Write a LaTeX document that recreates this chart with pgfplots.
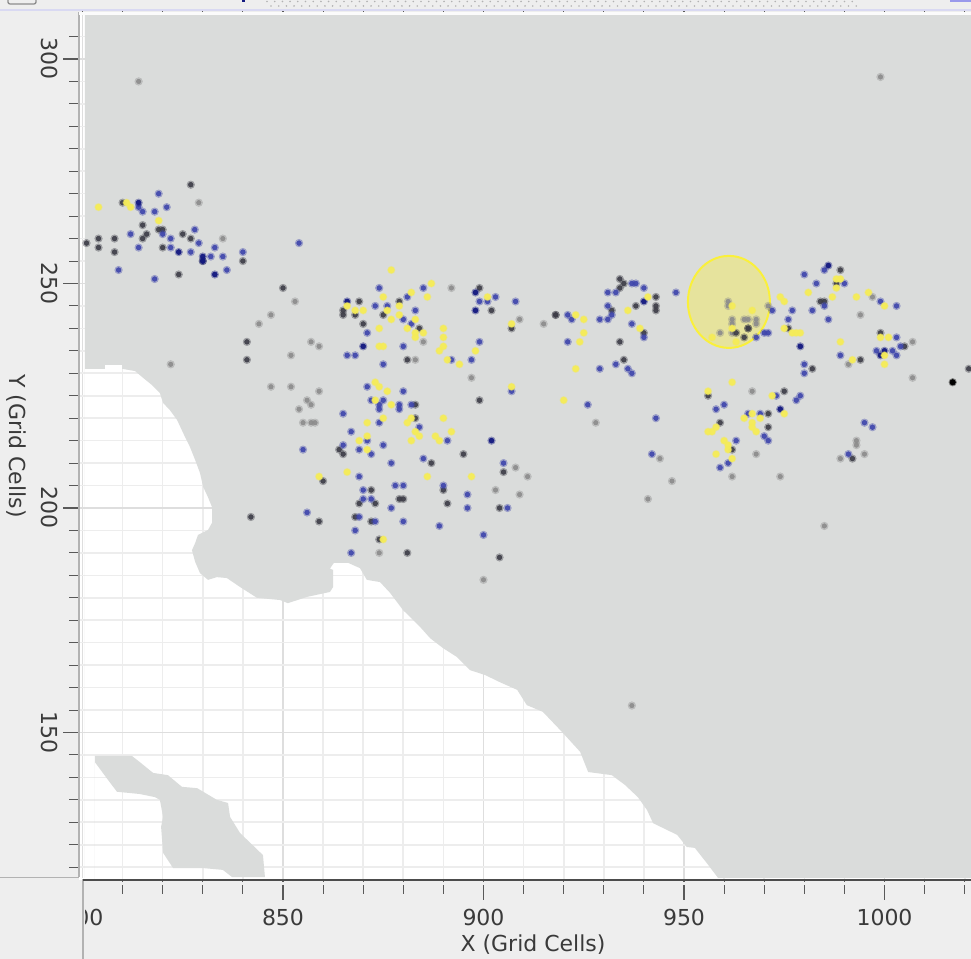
\documentclass[border=0pt]{standalone}
\usepackage{pgfplots}
\usepackage{pgfplotstable}
\usepackage{fontspec}
\setmainfont{DejaVu Sans}
\pgfplotsset{compat=1.18}
\definecolor{panel}{HTML}{EEEEEE}
\definecolor{ocean}{HTML}{DADCDB}
\definecolor{cblue}{HTML}{3F46AC}
\definecolor{cnavy}{HTML}{141A80}
\definecolor{cdark}{HTML}{3E3E48}
\definecolor{cgray}{HTML}{8C8C8C}
\definecolor{cyel}{HTML}{F5EC58}
\definecolor{ctext}{HTML}{3A3A3A}
\definecolor{cring}{HTML}{FAF03A}
\pgfplotstableread{
x y
814 295
999 296
937 156
829 268
835 260
853 246
847 243
844 241
857 237
859 236
852 234
822 232
847 227
852 227
859 226
856 224
857 223
854 222
892 249
885 237
883 233
897 229
909 242
915 241
908 209
911 207
903 204
909 203
874 190
900 184
855 219
857 219
858 219
928 219
944 211
947 206
941 202
967 226
968 212
962 207
961 246
961 245
971 245
962 242
962 241
965 242
966 242
968 242
968 241
959 239
962 239
994 243
997 247
991 232
1007 237
1007 229
993 215
993 214
989 211
995 212
974 207
985 196
}\tgray
\pgfplotstableread{
x y
827 272
810 268
815 263
816 261
815 260
819 262
820 262
825 261
827 260
820 258
804 260
808 260
804 258
808 257
801 259
830 255
840 255
824 252
850 249
841 237
841 233
842 198
869 246
865 244
865 243
868 243
875 243
870 241
879 246
884 240
881 233
899 249
902 244
907 240
918 243
899 224
883 223
883 220
864 213
865 212
887 210
895 212
905 208
860 206
872 204
890 204
879 202
880 202
869 201
873 201
891 201
904 200
859 197
868 198
872 197
874 193
881 190
904 189
934 251
935 250
934 249
943 247
943 245
943 244
938 245
932 244
918 243
940 239
934 237
935 233
956 225
959 219
971 221
971 218
962 213
966 240
966 240
963 239
965 238
989 253
984 246
985 246
988 250
976 240
982 231
975 226
994 233
999 239
1005 236
992 211
1021 231
}\tdark
\pgfplotstableread{
x y
819 270
814 267
815 266
818 266
821 267
812 261
820 261
822 260
822 258
814 258
827 257
829 259
833 258
832 256
835 256
840 257
836 253
818 251
809 253
828 262
854 259
874 249
885 249
881 247
873 245
876 245
883 244
880 242
882 241
871 239
880 236
866 234
868 234
875 232
892 233
897 233
899 237
899 246
901 246
903 247
908 246
907 226
871 227
880 226
872 224
875 224
874 223
874 222
879 223
879 222
882 223
865 221
874 219
884 218
867 217
871 215
891 215
865 214
875 214
855 213
869 213
872 212
885 211
877 210
905 210
869 207
878 205
880 205
890 205
870 204
870 202
872 202
896 203
877 200
896 200
906 200
856 199
869 198
873 197
880 197
889 196
868 195
900 194
867 190
921 243
922 242
931 248
933 248
937 250
938 250
940 249
948 248
931 245
932 243
931 242
929 242
937 241
940 238
921 237
929 231
933 232
936 231
937 230
926 223
943 220
942 212
958 222
960 223
966 221
969 221
963 215
970 216
971 215
961 210
959 209
972 244
968 238
970 239
971 239
973 225
980 252
983 250
985 253
990 250
977 244
982 244
985 245
986 242
976 242
999 246
1003 245
989 234
980 232
980 230
998 235
1002 235
1003 234
1004 236
979 225
978 224
995 219
997 218
991 212
1003 238
}\tblue
\pgfplotstableread{
x y
814 268
824 257
833 252
830 256
830 255
866 246
870 236
898 248
898 244
902 215
940 246
979 236
999 234
1000 235
986 254
974 222
}\tnavy
\pgfplotstableread{
x y
804 267
811 268
812 267
819 264
877 253
887 250
875 247
882 248
886 247
866 245
868 244
870 244
876 244
879 245
879 243
877 242
883 242
874 240
881 240
883 239
885 239
883 238
890 240
890 238
890 236
889 235
874 236
875 236
898 235
891 233
894 232
901 247
907 241
873 228
874 227
876 226
873 224
877 223
907 227
871 219
875 220
881 219
882 220
890 220
883 217
884 216
871 216
892 217
888 216
889 215
882 215
869 215
871 213
859 207
866 208
886 207
897 207
875 193
923 243
925 242
925 239
924 237
936 244
939 240
941 247
923 231
920 224
956 226
962 228
972 225
967 221
969 220
967 219
967 218
968 217
958 218
956 217
957 217
960 215
961 214
961 213
958 212
962 211
965 220
962 245
967 244
962 240
957 238
963 237
974 247
975 246
981 248
987 247
988 251
989 251
988 249
993 247
996 248
1000 245
975 240
977 239
978 239
979 239
989 237
999 238
1001 238
1000 234
1000 232
992 233
975 221
}\tyel
\pgfplotstableread{
x y
1017 228
}\tblack
\pgfplotstableread{
x y
800.6 231.0
805.6 231.0
805.6 231.9
809.9 231.9
809.9 231.0
813.1 230.5
815.1 229.0
817.3 227.4
819.3 225.6
820.1 223.4
821.8 221.8
823.6 219.6
825.1 216.7
826.8 213.6
828.1 210.7
829.3 207.8
830.1 204.7
831.3 202.4
832.3 200.2
832.3 196.7
831.3 195.1
828.8 194.0
828.1 192.2
827.3 190.6
828.1 188.0
829.3 185.5
831.3 184.0
833.5 184.6
836.0 184.4
839.3 182.4
843.5 180.0
849.3 179.5
851.2 178.8
856.0 180.2
861.7 181.3
862.5 182.4
862.5 186.2
861.7 186.5
862.7 187.8
866.2 187.8
869.2 186.6
870.9 184.0
874.2 183.5
876.7 181.1
879.9 177.3
884.2 173.5
886.7 171.0
889.9 168.8
893.4 166.8
896.6 163.9
900.4 162.8
904.1 161.2
908.4 159.5
910.8 156.1
914.8 154.6
919.6 150.1
924.1 145.7
926.1 141.2
932.0 140.5
935.3 138.3
938.5 135.6
940.8 132.7
942.3 129.8
948.3 127.2
950.7 124.5
952.7 124.3
955.7 120.9
958.5 117.6
1021.6 117.6
1021.6 309.8
800.6 309.8
}\tocean
\pgfplotstableread{
x y
803.1 144.8
812.3 144.8
814.3 143.4
817.6 141.0
821.3 140.5
824.8 137.9
828.6 137.6
833.5 135.0
836.3 134.3
836.8 131.2
839.3 127.6
845.0 122.7
845.5 117.8
837.3 117.8
835.0 119.4
830.1 119.8
822.6 119.8
820.1 123.2
819.6 129.0
820.1 131.2
819.3 135.0
818.1 135.6
814.3 136.3
808.6 136.8
806.4 139.4
803.1 143.4
}\tisland
\newcommand{\pts}[4]{%
  \addplot[only marks,color=#2,mark=*,mark size=2.9pt,mark options={line width=0.4pt,opacity=0.3}] table {#1};
  \addplot[only marks,color=#2,mark=*,mark size=#4,mark options={line width=0.4pt,opacity=#3}] table {#1};
}
\begin{document}
\begin{tikzpicture}
\path[use as bounding box,fill=panel] (0,0) rectangle (728.25pt,719.25pt);
\begin{axis}[
  at={(59.25pt,59.25pt)},anchor=south west,
  scale only axis,width=669pt,height=650.25pt,
  xmin=799.13,xmax=1021.57,ymin=117.15,ymax=310.245,
  axis background/.style={fill=white},
  axis line style={draw=none},
  xtick={800,850,900,950,1000},
  minor xtick={810,820,830,840,860,870,880,890,910,920,930,940,960,970,980,990,1010,1020},
  xticklabels={},
  x tick style={draw=none},
  ytick={150,200,250,300},
  minor ytick={120,125,130,135,140,145,155,160,165,170,175,180,185,190,195,205,210,215,220,225,230,235,240,245,255,260,265,270,275,280,285,290,295,305},
  tick align=outside,
  major tick length=12pt,minor tick length=7.5pt,
  y tick style={color=black!65,line width=0.8pt},
  xmajorgrids,ymajorgrids,xminorgrids,yminorgrids,
  major grid style={color=black!13,line width=1.1pt},
  minor grid style={color=black!7,line width=1.2pt},
  yticklabel style={rotate=-90,anchor=north,font=\fontsize{16.5}{18}\selectfont,text=ctext},
  /pgf/number format/assume math mode=true,
  /pgf/number format/1000 sep={},
  ylabel={Y (Grid Cells)},
  ylabel style={at={(axis description cs:-0.0705,0.5006)},anchor=center,rotate=180,font=\fontsize{16.5}{18}\selectfont,text=ctext},
]
\addplot[fill=ocean,draw=none] table {\tocean} \closedcycle;
\addplot[fill=ocean,draw=none] table {\tisland} \closedcycle;
\pts{\tgray}{cgray}{0.9}{1.7pt}
\pts{\tdark}{cdark}{0.9}{1.8pt}
\pts{\tblue}{cblue}{0.9}{1.8pt}
\pts{\tnavy}{cnavy}{0.95}{1.9pt}
\pts{\tblack}{black}{1}{2.1pt}
\pts{\tyel}{cyel}{0.95}{2.3pt}
\fill[cring,fill opacity=0.38] (axis cs:961.2,245.9) ellipse [x radius=30.75pt,y radius=34.5pt];
\draw[color=cring,line width=1.5pt] (axis cs:961.2,245.9) ellipse [x radius=30.75pt,y radius=34.5pt];
\end{axis}
\begin{axis}[
  at={(59.25pt,59.25pt)},anchor=south west,
  scale only axis,width=669pt,height=650.25pt,
  xmin=799.13,xmax=1021.57,ymin=117.15,ymax=310.245,
  axis line style={draw=none},
  ytick=\empty,
  xtick={800,850,900,950,1000},
  minor xtick={810,820,830,840,860,870,880,890,910,920,930,940,960,970,980,990,1010,1020},
  tick align=outside,
  major tick length=15pt,minor tick length=10.5pt,
  x tick style={color=black!65,line width=0.8pt},
  xticklabel style={font=\fontsize{16.5}{18}\selectfont,text=ctext},
  xticklabel shift=3pt,
  /pgf/number format/assume math mode=true,
  /pgf/number format/1000 sep={},
  xlabel={X (Grid Cells)},
  xlabel style={at={(axis description cs:0.509,-0.075)},anchor=center,font=\fontsize{16.5}{18}\selectfont,text=ctext},
]
\end{axis}
\begin{scope}[x=0.75pt,y=-0.75pt,yshift=719.25pt]
  \fill[panel] (0,878) rectangle (85,959);
  \fill[panel] (83,882) rectangle (971,885);
  \fill[white] (79,878) rectangle (85,880);
  \draw[black!30,line width=1.1pt] (0,877.5) -- (79,877.5);
  \draw[black!30,line width=1.1pt] (79,12) -- (79,877.5);
  \draw[black!30,line width=1.1pt] (83,879) -- (83,959);
  \draw[black!70,line width=2.2pt] (83,880) -- (971,880);
  \fill[panel] (0,0) rectangle (971,10);
  \draw[color=black!35!blue!15!white,line width=1.5pt] (0,10.5) -- (971,10.5);
  \fill[white!90!ocean] (79,12) rectangle (971,15);
  \draw[black!45,line width=1pt,rounded corners=1.5pt] (8,-3) rectangle (36,4);
  \fill[cnavy] (242,0) rectangle (245,2.5);
  \foreach \i in {0,1,...,76} {
    \fill[black!30] (267+7.7*\i,1.5) circle (0.9);
    \fill[black!30] (271+7.7*\i,6) circle (0.9);
  }
  \fill[black!20!blue!40!white] (950,0) rectangle (971,2);
\end{scope}
\end{tikzpicture}
\end{document}
